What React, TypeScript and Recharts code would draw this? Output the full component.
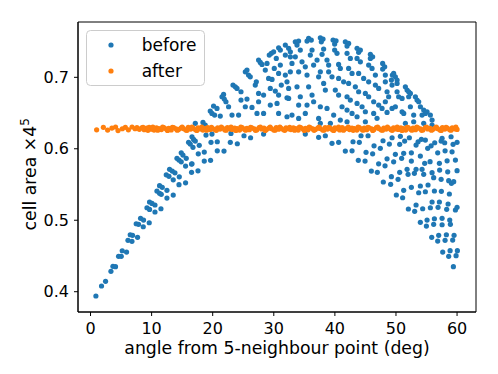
import { ScatterChart, Scatter, XAxis, YAxis, ReferenceArea } from 'recharts';

const BLUE = '#1f77b4';
const ORANGE = '#ff7f0e';
const FONT = 'DejaVu Sans';

// axis ticks
const xTicks = [0, 10, 20, 30, 40, 50, 60];
const yTicks = [0.4, 0.5, 0.6, 0.7];

// "before": [angle (deg), cell area x4^5]
const beforePts: [number, number][] = [
  // left arm
  [0.88, 0.394], [1.8, 0.408], [2.46, 0.4145], [3.34, 0.4285], [3.67, 0.4355], [4.09, 0.435],
  [4.59, 0.4495], [5.03, 0.4495], [5.19, 0.4573], [5.9, 0.4555], [6.13, 0.4719], [6.78, 0.4705],
  [6.5, 0.4797], [6.88, 0.4789], [7.7, 0.4761], [7.48, 0.4951], [7.86, 0.4943], [8.19, 0.5027],
  [8.68, 0.5003], [8.63, 0.4909], [9.61, 0.4965], [9.24, 0.5175], [9.66, 0.5152], [9.66, 0.5255],
  [10.06, 0.5236], [10.55, 0.5213], [10.55, 0.5115], [11.53, 0.5161], [10.87, 0.5408], [11.3, 0.5376],
  [11.58, 0.5362], [11.3, 0.5483], [11.74, 0.546], [12.51, 0.5418], [12.51, 0.531], [13.54, 0.5352],
  [12.4, 0.5636], [12.84, 0.5614], [13.54, 0.5566], [12.94, 0.5712], [13.38, 0.5688], [13.82, 0.5664],
  [14.53, 0.5608], [14.48, 0.5497], [15.56, 0.5524], [15.56, 0.5758], [16.54, 0.5786], [16.54, 0.567],
  [17.59, 0.5692], [14.48, 0.5842], [14.85, 0.5818], [18.62, 0.5828], [19.65, 0.5838],
  // just below the band, left
  [16.61, 0.6168], [16.87, 0.6131], [17.15, 0.6108], [16.05, 0.609], [16.33, 0.6066], [16.77, 0.602],
  [17.8, 0.6048], [17.64, 0.593], [18.62, 0.5954], [18.9, 0.6192], [19.88, 0.6206], [19.72, 0.609],
  [20.75, 0.6098], [20.75, 0.5972], [21.85, 0.5968], [14.85, 0.5944], [15.13, 0.5912], [14.15, 0.5866],
  [15.67, 0.5866], [16.61, 0.579], [22.88, 0.609], [24.03, 0.607], [25.12, 0.6182], [26.2, 0.6154],
  [22.99, 0.6215], [28.33, 0.6206],
  // dome, left side
  [17.15, 0.6356], [18.41, 0.6369], [18.78, 0.6332], [19.6, 0.6528], [19.88, 0.6495], [20.31, 0.6472],
  [20.14, 0.6597], [20.7, 0.6565], [21.24, 0.6458], [21.52, 0.6728], [21.9, 0.6695], [22.17, 0.6658],
  [21.78, 0.6761], [22.6, 0.6588], [23.32, 0.6891], [23.7, 0.6867], [23.98, 0.6845], [24.63, 0.6798],
  [23.16, 0.6472], [24.24, 0.6472], [24.63, 0.6681], [25.61, 0.6695], [25.34, 0.6588], [26.43, 0.6579],
  [25.34, 0.7077], [25.87, 0.7031], [26.15, 0.7007], [25.61, 0.7101], [26.97, 0.6891], [27.14, 0.6937],
  [27.51, 0.6775], [28.33, 0.6751], [27.51, 0.6658], [27.25, 0.6495], [28.33, 0.6495], [27.79, 0.7209],
  [28.07, 0.7181], [28.61, 0.7101], [28.89, 0.7195], [27.51, 0.7241], [29.15, 0.6985], [29.71, 0.6971],
  [29.43, 0.6845], [30.25, 0.6807], [29.43, 0.6611], [30.53, 0.6635], [29.26, 0.7311], [29.59, 0.7335],
  [29.97, 0.7357], [30.41, 0.7265], [30.79, 0.7413], [31.07, 0.7381], [31.89, 0.7311], [30.08, 0.7125],
  [31.07, 0.7171], [30.79, 0.7055], [31.89, 0.7031], [31.23, 0.6891], [32.16, 0.6937], [30.79, 0.6751],
  [32.16, 0.6714], [30.79, 0.6495], [32.16, 0.6448],
  // dome, top
  [31.89, 0.7451], [32.43, 0.7405], [32.71, 0.7357], [32.71, 0.7287], [33.52, 0.7287], [33.52, 0.7497],
  [34.06, 0.7507], [33.8, 0.7451], [35.7, 0.7544], [36.14, 0.7521], [35.44, 0.7507], [37.62, 0.7553],
  [38.06, 0.7535], [37.78, 0.7497], [39.7, 0.7521], [40.19, 0.7511], [39.96, 0.7465], [41.71, 0.7497],
  [42.25, 0.7474], [41.99, 0.7437], [43.63, 0.7405], [44.17, 0.7381], [43.89, 0.7349], [45.81, 0.7321],
  [46.18, 0.7287], [45.81, 0.7265], [47.82, 0.7195], [48.15, 0.7147], [47.82, 0.7115], [49.41, 0.7031],
  [34.34, 0.7381], [35.98, 0.7311], [36.26, 0.7381], [37.9, 0.7321], [38.16, 0.7395], [39.96, 0.7381],
  [40.35, 0.7335], [41.99, 0.7335], [42.53, 0.7265], [43.63, 0.7265], [44.17, 0.7217], [45.53, 0.7171],
  [46.08, 0.7125], [46.63, 0.7031], [48.26, 0.7031], [48.26, 0.6937], [49.25, 0.6961],
  [32.98, 0.7195], [34.62, 0.7217], [35.16, 0.7147], [36.52, 0.7171], [37.08, 0.7241], [38.71, 0.7241],
  [38.98, 0.7171], [40.61, 0.7181], [40.89, 0.7125], [42.25, 0.7125], [42.81, 0.7055], [43.89, 0.7055],
  [44.71, 0.6985], [45.53, 0.6937], [46.63, 0.6891], [47.17, 0.6845], [48.54, 0.6798], [48.8, 0.6728],
  [48.26, 0.6658],
  [32.71, 0.7077], [34.07, 0.7077], [35.44, 0.7031], [37.34, 0.7007], [37.62, 0.7077], [38.98, 0.7077],
  [39.53, 0.7007], [40.61, 0.6985], [41.43, 0.6937], [42.25, 0.6915], [43.35, 0.6867], [43.89, 0.6798],
  [44.99, 0.6775], [45.53, 0.6728], [46.35, 0.6658], [47.17, 0.6611], [47.72, 0.6565], [48.54, 0.6509],
  [32.43, 0.6845], [33.8, 0.6867], [34.34, 0.6728], [35.7, 0.6867], [36.26, 0.6751], [38.16, 0.6915],
  [38.44, 0.6821], [40.07, 0.6821], [40.61, 0.6751], [41.99, 0.6728], [42.53, 0.6681], [43.63, 0.6635],
  [44.45, 0.6588], [44.99, 0.6518], [46.35, 0.6495], [46.9, 0.6426],
  [32.43, 0.6705], [34.07, 0.6611], [35.44, 0.6611], [36.52, 0.6658], [37.62, 0.6588], [38.71, 0.6565],
  [39.8, 0.6472], [41.17, 0.6588], [41.99, 0.6542], [42.81, 0.6495], [43.63, 0.6448],
  [32.98, 0.6472], [34.07, 0.6425], [35.16, 0.6495], [37.34, 0.6425], [37.62, 0.6356], [39.26, 0.6356],
  [40.89, 0.6402], [41.99, 0.6378], [44.99, 0.6378],
  // dome, right side
  [49.62, 0.7055], [49.9, 0.7007], [50.18, 0.6961], [50.18, 0.6915], [51.54, 0.6867], [51.82, 0.6821],
  [52.08, 0.6798], [53.18, 0.6728], [53.72, 0.6658], [54.0, 0.6588], [55.09, 0.6518], [55.63, 0.6472],
  [55.91, 0.6402], [49.36, 0.6891], [50.18, 0.6798], [50.44, 0.6728], [51.0, 0.6705], [52.08, 0.6728],
  [52.36, 0.6588], [52.9, 0.6472], [54.27, 0.6472], [54.54, 0.6356], [49.36, 0.6565], [49.9, 0.6588],
  [51.0, 0.6518], [51.27, 0.6495], [51.54, 0.6356], [52.9, 0.6378], [54.54, 0.6542], [54.81, 0.6495],
  [53.45, 0.6681], [52.36, 0.6775], [55.91, 0.6332],
  // below the band, right
  [35.16, 0.6206], [37.34, 0.616], [38.44, 0.6182], [39.53, 0.6076], [40.61, 0.609], [41.71, 0.5968],
  [42.81, 0.5972], [42.97, 0.6098], [44.0, 0.609], [43.84, 0.5838], [44.94, 0.5828], [45.1, 0.595],
  [46.18, 0.593], [44.28, 0.6182], [45.43, 0.6182], [45.97, 0.5688], [46.95, 0.567], [46.41, 0.6042],
  [47.44, 0.6006], [47.88, 0.6112], [48.92, 0.6066], [47.16, 0.579], [48.21, 0.5762], [48.54, 0.586],
  [49.62, 0.5818], [47.93, 0.5535], [49.13, 0.5502], [49.25, 0.5609], [50.34, 0.5572], [49.36, 0.6154],
  [50.72, 0.6174], [50.61, 0.6062], [51.42, 0.6108], [52.19, 0.6154], [49.9, 0.5922], [50.93, 0.5866],
  [51.26, 0.5936], [52.52, 0.5944], [50.61, 0.567], [51.82, 0.5712], [50.06, 0.5353], [51.09, 0.5315],
  [51.26, 0.5418], [52.52, 0.546], [52.03, 0.5157], [53.06, 0.5125], [51.98, 0.5642], [53.01, 0.5656],
  [52.52, 0.5828], [53.99, 0.5898], [53.29, 0.6052], [53.62, 0.6098], [54.16, 0.6132], [54.81, 0.6122],
  [53.29, 0.5213], [54.37, 0.5161], [53.72, 0.5385], [54.81, 0.5399], [53.29, 0.5712], [54.27, 0.5712],
  [53.99, 0.5479], [55.25, 0.5493], [53.99, 0.4971], [55.09, 0.5003], [56.29, 0.5021], [57.55, 0.5027],
  [58.8, 0.5003], [54.98, 0.4919], [56.17, 0.4943], [57.55, 0.4937], [58.91, 0.4943], [54.54, 0.5642],
  [55.91, 0.5665], [54.7, 0.5796], [55.58, 0.5819], [55.19, 0.6006], [55.75, 0.6042], [56.34, 0.6084],
  [57.39, 0.6108], [57.97, 0.6084], [55.63, 0.5175], [56.89, 0.5181], [58.3, 0.5153], [55.91, 0.5255],
  [57.11, 0.5255], [58.53, 0.5227], [56.29, 0.5409], [57.43, 0.5405], [58.74, 0.5367], [56.17, 0.5595],
  [57.39, 0.5572], [58.63, 0.5553], [57.15, 0.5702], [58.47, 0.5678], [60.0, 0.5693], [56.83, 0.5944],
  [58.04, 0.5972], [59.18, 0.5958], [57.11, 0.5796], [58.37, 0.5832], [59.73, 0.5842], [57.55, 0.6146],
  [59.02, 0.6168], [60.0, 0.609], [59.35, 0.6062], [59.08, 0.5516], [59.45, 0.5539], [59.73, 0.5143],
  [60.0, 0.5181],
  // bottom right tail
  [55.85, 0.4761], [56.99, 0.4789], [58.25, 0.4797], [59.51, 0.4789], [56.83, 0.4709], [58.04, 0.4719],
  [59.28, 0.4723], [57.65, 0.4555], [58.86, 0.4574], [60.05, 0.4574], [58.63, 0.4495], [59.84, 0.4504],
  [59.4, 0.435],
];

// "after": almost flat band around 0.628
const afterPts: [number, number][] = [
  [1.0, 0.6265], [2.1, 0.63], [2.8, 0.6262], [3.5, 0.629], [4.1, 0.6305], [4.5, 0.6255],
  [5.2, 0.628], [5.7, 0.63], [6.2, 0.6265], [6.8, 0.6305], [7.3, 0.628], [7.6, 0.6298],
  [8.0, 0.6272], [8.4, 0.6294], [8.8, 0.6266], [9.2, 0.6289], [9.6, 0.6301], [10.0, 0.6274],
  [10.4, 0.6262], [10.8, 0.6292], [11.2, 0.6281], [11.6, 0.6268], [12.0, 0.6297], [12.4, 0.6277],
  [12.8, 0.6286], [13.2, 0.6263], [13.6, 0.6295], [14.0, 0.6279], [14.4, 0.6269], [14.8, 0.6291],
  [15.2, 0.6283], [15.6, 0.6261], [16.0, 0.6299], [16.4, 0.6275], [16.8, 0.6288], [17.2, 0.6266],
  [17.6, 0.6294], [18.0, 0.6278], [18.4, 0.6262], [18.8, 0.6286], [19.2, 0.6297], [19.6, 0.6271],
  [20.0, 0.6283], [20.4, 0.6265], [20.8, 0.6292], [21.2, 0.6276], [21.6, 0.6289], [22.0, 0.6263],
  [22.4, 0.6298], [22.8, 0.6279], [23.2, 0.627], [23.6, 0.6291], [24.0, 0.6284], [24.4, 0.6262],
  [24.8, 0.6295], [25.2, 0.6274], [25.6, 0.6287], [26.0, 0.6267], [26.4, 0.6293], [26.8, 0.628],
  [27.2, 0.6264], [27.6, 0.6296], [28.0, 0.6277], [28.4, 0.6288], [28.8, 0.6268], [29.2, 0.629],
  [29.6, 0.6282], [30.0, 0.6263], [30.4, 0.6297], [30.8, 0.6273], [31.2, 0.6286], [31.6, 0.6266],
  [32.0, 0.6294], [32.4, 0.6279], [32.8, 0.6269], [33.2, 0.6292], [33.6, 0.6283], [34.0, 0.6262],
  [34.4, 0.6298], [34.8, 0.6276], [35.2, 0.6287], [35.6, 0.6265], [36.0, 0.6293], [36.4, 0.6278],
  [36.8, 0.627], [37.2, 0.629], [37.6, 0.6284], [38.0, 0.6263], [38.4, 0.6296], [38.8, 0.6275],
  [39.2, 0.6288], [39.6, 0.6267], [40.0, 0.6292], [40.4, 0.628], [40.8, 0.6264], [41.2, 0.6297],
  [41.6, 0.6277], [42.0, 0.6286], [42.4, 0.6268], [42.8, 0.6291], [43.2, 0.6282], [43.6, 0.6262],
  [44.0, 0.6295], [44.4, 0.6274], [44.8, 0.6289], [45.2, 0.6266], [45.6, 0.6293], [46.0, 0.6279],
  [46.4, 0.6269], [46.8, 0.6298], [47.2, 0.6283], [47.6, 0.6263], [48.0, 0.629], [48.4, 0.6276],
  [48.8, 0.6287], [49.2, 0.6265], [49.6, 0.6294], [50.0, 0.6278], [50.4, 0.627], [50.8, 0.6292],
  [51.2, 0.6284], [51.6, 0.6262], [52.0, 0.6297], [52.4, 0.6273], [52.8, 0.6288], [53.2, 0.6267],
  [53.6, 0.6293], [54.0, 0.628], [54.4, 0.6264], [54.8, 0.6296], [55.2, 0.6277], [55.6, 0.6286],
  [56.0, 0.6268], [56.4, 0.6291], [56.8, 0.6282], [57.2, 0.6263], [57.6, 0.6295], [58.0, 0.6275],
  [58.4, 0.6289], [58.8, 0.6266], [59.2, 0.6294], [59.6, 0.6279], [60.0, 0.6271],
  // second row of the dense part, in between the ones above
  [8.6, 0.6299], [9.4, 0.6258], [10.2, 0.6302], [11.0, 0.6259], [11.8, 0.6303], [12.6, 0.6257],
  [13.4, 0.6301], [14.2, 0.626], [15.0, 0.6304], [15.8, 0.6258], [16.6, 0.6302], [17.4, 0.6257],
  [18.2, 0.6303], [19.0, 0.6259], [19.8, 0.6301], [20.6, 0.6258], [21.4, 0.6304], [22.2, 0.626],
  [23.0, 0.6302], [23.8, 0.6257], [24.6, 0.6303], [25.4, 0.6259], [26.2, 0.6301], [27.0, 0.6258],
  [27.8, 0.6304], [28.6, 0.6257], [29.4, 0.6302], [30.2, 0.626], [31.0, 0.6303], [31.8, 0.6258],
  [32.6, 0.6301], [33.4, 0.6259], [34.2, 0.6304], [35.0, 0.6257], [35.8, 0.6302], [36.6, 0.6258],
  [37.4, 0.6303], [38.2, 0.626], [39.0, 0.6301], [39.8, 0.6257], [40.6, 0.6304], [41.4, 0.6259],
  [42.2, 0.6302], [43.0, 0.6258], [43.8, 0.6303], [44.6, 0.626], [45.4, 0.6301], [46.2, 0.6257],
  [47.0, 0.6304], [47.8, 0.6259], [48.6, 0.6302], [49.4, 0.6258], [50.2, 0.6303], [51.0, 0.6257],
  [51.8, 0.6301], [52.6, 0.626], [53.4, 0.6304], [54.2, 0.6258], [55.0, 0.6302], [55.8, 0.6259],
  [56.6, 0.6303], [57.4, 0.6257], [58.2, 0.6301], [59.0, 0.626], [59.8, 0.6302],
];

const beforeData = beforePts.map(([x, y]) => ({ x, y }));
const afterData = afterPts.map(([x, y]) => ({ x, y }));

const X_DOMAIN: [number, number] = [-2.05, 63.1];
const Y_DOMAIN: [number, number] = [0.3716, 0.7774];

const dot = (color: string) => (p: any) => <circle cx={p.cx} cy={p.cy} r={2.6} fill={color} />;

const XLabel = () => (
  <text x={277} y={354} textAnchor="middle" fontSize={17.3} fontFamily={FONT} fill="#000">
    angle from 5-neighbour point (deg)
  </text>
);

const YLabel = () => (
  <text x={36} y={230.5} transform="rotate(-90 36 230.5)" textAnchor="start" fontSize={17.3} fontFamily={FONT} fill="#000">
    cell area ×4<tspan dy={-7} fontSize={12}>5</tspan>
  </text>
);

export default function App() {
  const tick = { fontSize: 16, fontFamily: FONT, fill: '#000' };
  return (
    <div style={{ position: 'relative', width: 498, height: 374 }}>
      <style>{'body{margin:0}'}</style>
      <ScatterChart width={498} height={374} margin={{ top: 22, right: 22, bottom: 0, left: 0 }}>
        <XAxis
          dataKey="x"
          type="number"
          domain={X_DOMAIN}
          ticks={xTicks}
          allowDataOverflow
          height={62}
          tick={tick}
          tickSize={4}
          tickMargin={7}
          stroke="#000"
          label={<XLabel />}
        />
        <YAxis
          dataKey="y"
          type="number"
          domain={Y_DOMAIN}
          ticks={yTicks}
          allowDataOverflow
          width={78}
          tick={tick}
          tickSize={4}
          tickMargin={5}
          tickFormatter={(v: number) => v.toFixed(1)}
          stroke="#000"
          label={<YLabel />}
        />
        <Scatter data={beforeData} fill={BLUE} shape={dot(BLUE)} isAnimationActive={false} />
        <Scatter data={afterData} fill={ORANGE} shape={dot(ORANGE)} isAnimationActive={false} />
        {/* frame on all four sides */}
        <ReferenceArea x1={X_DOMAIN[0]} x2={X_DOMAIN[1]} y1={Y_DOMAIN[0]} y2={Y_DOMAIN[1]} fill="none" stroke="#000" strokeWidth={1} />
      </ScatterChart>

      {/* legend box, top left */}
      <svg width={498} height={374} style={{ position: 'absolute', left: 0, top: 0, pointerEvents: 'none' }}>
        <rect x={86.5} y={30.5} width={118} height={55} rx={4} fill="#fff" fillOpacity={0.8} stroke="#cccccc" />
        <circle cx={111} cy={45} r={2.6} fill={BLUE} />
        <circle cx={111} cy={71} r={2.6} fill={ORANGE} />
        <text x={141.7} y={50.5} fontSize={17} fontFamily={FONT} fill="#000">before</text>
        <text x={141.7} y={76.5} fontSize={17} fontFamily={FONT} fill="#000">after</text>
      </svg>
    </div>
  );
}
